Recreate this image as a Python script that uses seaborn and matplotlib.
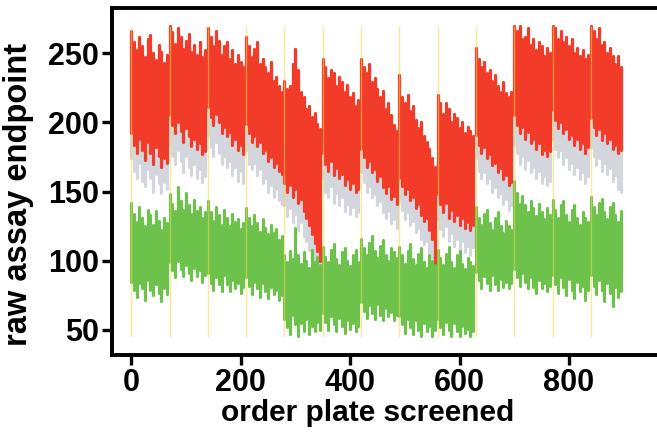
import numpy as np
import pandas as pd
import seaborn as sns
import matplotlib
matplotlib.use("Agg")
import matplotlib.pyplot as plt

# plate order (every 5th plate), 13 batches of 70 plates
plates = list(range(0, 900, 5))
batch_starts = [0, 70, 140, 210, 280, 350, 420, 490, 560, 630, 700, 770, 840]

# positive-control range (red)
red_hi = [
    266, 258, 252, 262, 255, 247, 260, 263, 250, 245, 256, 251, 243, 249,
    270, 265, 257, 268, 262, 253, 259, 264, 251, 256, 249, 258, 247, 252,
    268, 262, 255, 266, 259, 249, 255, 258, 246, 252, 242, 249, 244, 240,
    262, 255, 247, 253, 258, 242, 246, 240, 236, 244, 230, 233, 226, 222,
    230, 224, 226, 242, 253, 238, 222, 218, 210, 212, 204, 207, 199, 195,
    246, 240, 232, 238, 236, 226, 233, 229, 222, 227, 218, 221, 212, 216,
    246, 240, 236, 242, 229, 232, 224, 218, 223, 210, 214, 205, 198, 194,
    234, 218, 214, 220, 208, 212, 202, 196, 200, 190, 186, 181, 174, 168,
    220, 214, 206, 214, 210, 200, 206, 203, 196, 200, 192, 197, 194, 190,
    254, 246, 240, 244, 236, 238, 230, 234, 226, 222, 229, 221, 218, 222,
    270, 266, 270, 260, 262, 268, 256, 260, 252, 258, 255, 248, 254, 250,
    270, 268, 260, 266, 258, 262, 255, 260, 250, 254, 248, 252, 246, 249,
    270, 266, 260, 268, 256, 258, 250, 254, 248, 242, 248, 240,
]
red_lo = [
    192, 184, 178, 188, 180, 173, 186, 178, 170, 182, 176, 168, 174, 171,
    205, 198, 192, 200, 194, 186, 196, 190, 183, 188, 181, 185, 177, 179,
    211, 204, 198, 206, 200, 192, 197, 190, 193, 184, 188, 180, 184, 177,
    199, 192, 186, 190, 183, 186, 178, 180, 172, 175, 168, 171, 165, 163,
    156, 150, 155, 146, 152, 142, 145, 136, 131, 126, 119, 113, 107, 100,
    178, 170, 165, 172, 162, 167, 160, 163, 155, 159, 152, 156, 150, 152,
    181, 175, 168, 172, 164, 166, 158, 161, 153, 149, 154, 145, 147, 141,
    160, 154, 148, 152, 144, 146, 138, 141, 133, 129, 131, 122, 116, 96,
    148, 141, 135, 142, 131, 137, 129, 133, 126, 131, 124, 128, 122, 126,
    191, 184, 178, 182, 174, 177, 169, 171, 164, 167, 159, 162, 155, 157,
    205, 198, 192, 197, 188, 193, 185, 188, 181, 185, 177, 180, 176, 179,
    209, 202, 196, 200, 192, 195, 188, 191, 184, 188, 181, 185, 178, 182,
    203, 197, 191, 195, 187, 192, 185, 188, 181, 184, 178, 180,
]
# lowest sample wells (grey)
grey_lo = [
    174, 165, 160, 171, 158, 154, 166, 160, 150, 163, 156, 149, 157, 152,
    184, 176, 170, 180, 172, 164, 176, 168, 162, 170, 160, 166, 157, 161,
    190, 182, 176, 186, 178, 170, 176, 168, 172, 162, 168, 158, 165, 156,
    180, 170, 166, 171, 162, 166, 156, 160, 150, 155, 146, 152, 144, 141,
    140, 132, 138, 128, 134, 122, 128, 118, 114, 108, 102, 98, 94, 92,
    160, 150, 146, 154, 142, 149, 140, 146, 136, 141, 134, 139, 132, 135,
    164, 157, 150, 154, 146, 148, 140, 143, 135, 131, 136, 127, 130, 124,
    144, 137, 130, 135, 126, 129, 121, 124, 116, 112, 114, 106, 102, 92,
    130, 123, 118, 125, 114, 120, 111, 116, 108, 114, 106, 111, 104, 110,
    174, 165, 160, 164, 156, 160, 150, 153, 146, 149, 141, 145, 137, 140,
    184, 178, 170, 176, 166, 173, 164, 168, 160, 165, 156, 161, 155, 158,
    188, 181, 175, 180, 170, 175, 166, 171, 163, 168, 159, 164, 156, 161,
    182, 176, 169, 174, 165, 171, 163, 167, 158, 162, 152, 150,
]
# negative-control range (green)
green_hi = [
    142, 134, 128, 139, 131, 125, 137, 133, 126, 136, 129, 122, 131, 127,
    148, 141, 136, 153, 143, 137, 149, 140, 134, 144, 136, 139, 131, 135,
    143, 135, 129, 139, 133, 126, 137, 131, 125, 134, 128, 130, 123, 127,
    138, 131, 125, 133, 127, 121, 130, 124, 119, 126, 120, 123, 115, 118,
    104, 99, 107, 101, 124, 104, 98, 106, 100, 95, 108, 99, 103, 97,
    110, 103, 99, 108, 112, 101, 97, 106, 109, 100, 96, 104, 108, 99,
    116, 109, 104, 113, 118, 107, 102, 111, 115, 104, 100, 109, 106, 102,
    110, 104, 98, 107, 112, 101, 97, 105, 109, 99, 95, 104, 100, 97,
    108, 102, 97, 105, 110, 99, 95, 104, 107, 98, 94, 102, 99, 96,
    139, 131, 126, 134, 137, 127, 122, 131, 135, 125, 120, 129, 125, 122,
    158, 149, 141, 147, 140, 135, 143, 138, 132, 141, 135, 130, 138, 133,
    144, 137, 131, 140, 143, 133, 128, 137, 140, 131, 126, 135, 131, 128,
    146, 139, 133, 142, 145, 135, 130, 139, 142, 133, 128, 136,
]
green_lo = [
    85, 79, 74, 84, 80, 72, 86, 79, 75, 83, 77, 71, 80, 76,
    99, 93, 88, 100, 94, 89, 97, 91, 86, 95, 89, 93, 85, 90,
    91, 84, 79, 88, 83, 78, 90, 83, 78, 86, 80, 84, 77, 81,
    88, 82, 76, 85, 80, 74, 84, 78, 73, 81, 76, 79, 72, 75,
    58, 52, 47, 61, 54, 46, 55, 49, 58, 47, 53, 49, 56, 50,
    62, 56, 50, 60, 54, 49, 59, 53, 48, 57, 51, 55, 49, 53,
    70, 64, 59, 68, 62, 58, 69, 61, 57, 66, 60, 63, 57, 61,
    60, 54, 48, 58, 52, 47, 57, 50, 46, 55, 49, 53, 46, 50,
    58, 52, 47, 56, 50, 46, 55, 49, 46, 53, 48, 51, 46, 49,
    92, 86, 80, 89, 84, 79, 90, 83, 79, 87, 81, 85, 80, 84,
    94, 88, 82, 91, 85, 80, 88, 81, 77, 86, 80, 84, 78, 82,
    90, 83, 77, 88, 81, 75, 87, 79, 73, 85, 78, 82, 72, 79,
    90, 82, 76, 86, 79, 71, 84, 77, 67, 81, 74, 78,
]

# long format: two rows per plate and band -> one vertical segment per plate
rows = []
for band, lo, hi in [("grey", grey_lo, red_hi), ("red", red_lo, red_hi), ("green", green_lo, green_hi)]:
    for p, a, b in zip(plates, lo, hi):
        rows.append({"plate": p, "value": a, "band": band, "unit": p})
        rows.append({"plate": p, "value": b, "band": band, "unit": p})
df = pd.DataFrame(rows)

sns.set_theme(style="white")
plt.rcParams["font.family"] = ["Liberation Sans", "DejaVu Sans"]
plt.rcParams["font.weight"] = "bold"
for key in ["text.color", "axes.labelcolor", "xtick.color", "ytick.color"]:
    plt.rcParams[key] = "black"

fig = plt.figure(figsize=(6.57, 4.34), dpi=100)
ax = fig.add_axes([0.170, 0.182, 0.830, 0.799])

palette = {"grey": "#d3d6dc", "red": "#f23b28", "green": "#6cc24a"}
sns.lineplot(data=df, x="plate", y="value", hue="band", units="unit", estimator=None,
             hue_order=["grey", "red", "green"], palette=palette, linewidth=2.3,
             legend=False, ax=ax, sort=False)

# batch boundaries
ax.vlines(batch_starts, 45, 270, colors="#f5d84a", linewidth=1.0, alpha=0.55, zorder=5)

ax.set_xlim(-35.8, 961)
ax.set_ylim(31.9, 282.5)
ax.set_xticks([0, 200, 400, 600, 800])
ax.set_yticks([50, 100, 150, 200, 250])
ax.set_xlabel("order plate screened", fontsize=21.5, fontweight="bold")
ax.set_ylabel("raw assay endpoint", fontsize=23.5, fontweight="bold")
ax.xaxis.set_label_coords(0.469, -0.126)
ax.yaxis.set_label_coords(-0.142, 0.462)
ax.tick_params(axis="both", labelsize=22, length=7, width=2.4, direction="out",
               pad=2, left=True, bottom=True)
for lab in ax.get_xticklabels() + ax.get_yticklabels():
    lab.set_fontweight("bold")

ax.spines["right"].set_visible(False)
for s in ["left", "bottom", "top"]:
    ax.spines[s].set_linewidth(2.8)
    ax.spines[s].set_color("black")

plt.savefig("out.png", dpi=100)
